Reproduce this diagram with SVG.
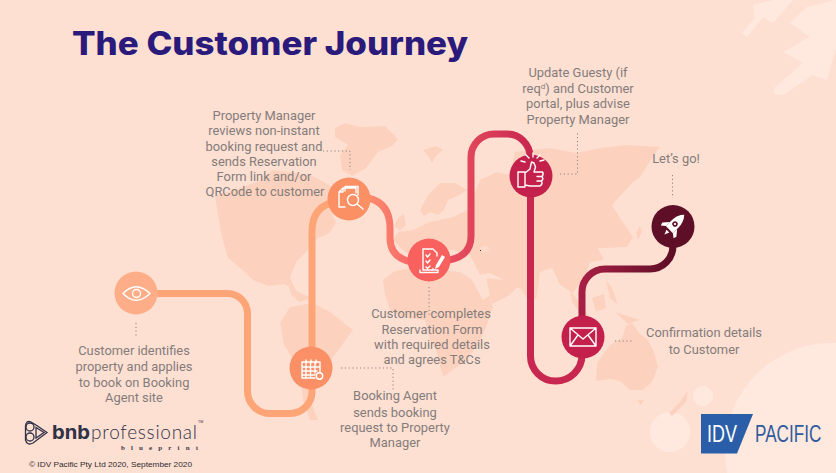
<svg xmlns="http://www.w3.org/2000/svg" width="836" height="473" viewBox="0 0 836 473">
<style>
.t{font-family:Roboto,"Liberation Sans",sans-serif;font-size:12.9px;fill:#847c7a;text-anchor:middle}
.d{fill:none;stroke:#8f8280;stroke-width:1;stroke-dasharray:1.2 2.6}
.i{fill:none;stroke:#fff;stroke-width:1.4;stroke-linejoin:round;stroke-linecap:round}
.p{fill:none;stroke-width:7}
.m{fill:#fcd2bf}
.w{fill:#ffe9df}
</style>
<defs>
<linearGradient id="g1" gradientUnits="userSpaceOnUse" x1="370" y1="0" x2="410" y2="0"><stop offset="0" stop-color="#fb8b6c"/><stop offset="1" stop-color="#f8686a"/></linearGradient>
<linearGradient id="g2" gradientUnits="userSpaceOnUse" x1="450" y1="0" x2="530" y2="0"><stop offset="0" stop-color="#e9505f"/><stop offset="1" stop-color="#c8274f"/></linearGradient>
<linearGradient id="g3" gradientUnits="userSpaceOnUse" x1="582" y1="0" x2="673" y2="0"><stop offset="0" stop-color="#a81f45"/><stop offset="1" stop-color="#5e0e26"/></linearGradient>
</defs>
<rect width="836" height="473" fill="#fee0d3"/>
<g id="background">
<path class="w" d="M742 33L755 18L753 5L773 0H793L773 23L763 17L747 37Z"/>
<path class="w" d="M775 87L803 63L783 52L810 37L790 23L807 7L836 0V47L827 80L813 75L783 95Q770 95 775 87Z"/>
<circle class="w" cx="832" cy="450" r="107"/>
<circle class="w" cx="703" cy="396" r="10"/>
<circle class="w" cx="670" cy="432" r="20"/>
<path class="m" d="M215 196L240 188L262 180L272 170L290 172L312 176L326 183L336 190L342 205L332 214L336 222L330 233L318 238L308 250L296 262L290 278L296 290L284 284L268 286L253 280L240 268L228 258L222 237L218 215Z"/>
<path class="m" d="M335 128L345 123L360 127L385 126L398 139L392 146L378 152L366 168L352 176L342 170L340 155L348 145L335 137Z"/>
<path class="m" d="M288 285L300 293L312 298L300 302L292 296Z"/>
<path class="m" d="M280 323L290 307L313 303L330 312L353 330L342 345L333 357L325 375L313 390L312 405L318 420L310 420L303 400L300 370L284 345Z"/>
<path class="m" d="M423 150L436 146L443 150L436 156L432 163L428 156Z"/>
<path class="m" d="M420 210L428 195L440 183L455 183L467 190L458 196L448 200L444 210L438 215L430 212L424 216Z"/>
<path class="m" d="M398 218L404 214L406 225L400 231L394 226Z"/>
<path class="m" d="M393 240L398 232L413 230L430 222L453 217L467 210L472 200L480 180L497 172L510 175L515 152L530 150L550 148L577 153L600 148L627 145L660 147L652 158L640 177L632 183L624 192L612 205L620 218L633 237L627 247L607 248L598 248L604 260L590 262L586 275L573 293L560 285L552 268L540 272L537 297L530 305L522 290L510 283L490 273L480 275L470 255L452 250L434 250L420 256L405 252Z"/>
<path class="m" d="M385 295L383 280L395 271L412 268L440 270L460 272L472 280L483 300L507 283L490 300L493 307L487 325L477 347L460 365L443 377L436 350L430 340L425 320L405 318L390 310Z"/>
<path class="m" d="M486 278L505 280L520 285L508 296L492 304Z"/>
<path class="m" d="M570 290L578 300L590 318L582 316L572 302Z"/>
<path class="m" d="M592 298L604 294L606 308L596 312Z M606 280L612 288L618 305L610 298Z M615 312L640 320L628 324Z M574 320L600 324V328L582 326Z M636 233L640 226L642 232L638 240Z"/>
<path class="m" d="M597 363L610 345L622 338L626 326L632 323L640 334L648 340L654 352L658 367L652 382L643 390L630 390L620 381L610 379L596 381Z"/>
<path class="m" d="M637 400L644 400L641 405Z M688 390L686 402L672 416L669 413L680 402Z"/>
<ellipse cx="485" cy="249" rx="5" ry="3" fill="#fdd9c9"/>
</g>
<g id="connectors">
<path class="p" stroke="#fda576" d="M157 293.500H227A20 20 0 0 1 247.500 313.500V391A22.500 22.500 0 0 0 270 413.500H290A22 22 0 0 0 312 391.500V232Q312 206 335 202"/>
<path class="p" stroke="url(#g1)" d="M368 198Q390 203 390 228V238Q390 258 412 262"/>
<path class="p" stroke="url(#g2)" d="M449 260Q471 256 471 236V157A23 23 0 0 1 494 134H507A23 23 0 0 1 530 157V165"/>
<path class="p" stroke="#c8274f" d="M530.500 190V356A25 25 0 0 0 555.500 381A26.500 26 0 0 0 582 355V345"/>
<path class="p" stroke="url(#g3)" d="M582 320V292A23 23 0 0 1 605 269H650A23 23 0 0 0 673 246"/>
<path class="d" d="M136 323V336M323 151H350V170M341 368H393V390M429 287V317M560 174H577.500V132M672.500 175V198M615 341H633"/>
<rect x="480" y="250" width="1" height="1" fill="#333"/>
</g>
<g id="title"><text x="72" y="55" font-family="Inter,'Liberation Sans',sans-serif" font-size="32" font-weight="800" fill="#2a1a7c" textLength="396" lengthAdjust="spacingAndGlyphs">The Customer Journey</text></g>
<g id="node-eye"><circle cx="136" cy="293" r="21.500" fill="#fdae88"/><path class="i" d="M123 293.500Q136 280 150 293.500Q136 307 123 293.500Z" stroke-width="1.800"/><circle class="i" cx="136.500" cy="293.500" r="4"/></g>
<g id="node-calendar"><circle cx="311" cy="368" r="21.500" fill="#fb8f66"/><path class="i" d="M315 378H302V362H320V372M302 367H320M306 362V378M310.500 362V378M315 362V373M302 371H317M302 375H315M306 360V363M311 360V363M316 360V363"/><circle class="i" cx="319.500" cy="376" r="3.200"/></g>
<g id="node-search"><circle cx="349" cy="199" r="21.500" fill="#fc9065"/><path class="i" d="M345 207H339V192L343 188H356V193M343 188V192H339M345 191V186.500H358V195"/><circle class="i" cx="353" cy="200" r="5.500"/><path class="i" d="M357 204L363 209" stroke-width="2"/></g>
<g id="node-form"><circle cx="429" cy="260" r="21.500" fill="#f9615f"/><path class="i" d="M433 268.500V270H423V249H433L437 253V256M420 270V272.500H438V270H433M426 255L427.500 257L430 254M426 261L427.500 263L430 260M426 267L427.500 268.500L430 266"/><path d="M436 265L442 255L445 257L439 267L435 269Z" fill="#fff"/></g>
<g id="node-thumb"><circle cx="531" cy="176" r="21.500" fill="#c4204c"/><path class="i" d="M518 172H525V187H518ZM525 173L530 169L531.500 162L534 163L535.500 167L534 172H542.500Q544 174 542 176.500Q544 179 541.500 181Q543 184 540 186H530L525 185M537 176.500H542M537 181H541" stroke-width="1.500"/><path class="i" d="M529 158L526 155M533 157V153M537 158L540 155M525 162L521 161M540 161L544 160"/></g>
<g id="node-rocket"><circle cx="673" cy="226.500" r="21.500" fill="#5e0e26"/><g transform="translate(675 224) rotate(45)"><path d="M0 -13Q5 -8 5 0V8H-5V0Q-5 -8 0 -13Z" fill="#fff"/><path d="M-5 2L-10 8L-9 11L-5 8ZM5 2L10 8L9 11L5 8ZM-2 10H2L0 15Z" fill="#fff"/><circle cy="0" r="2.700" fill="#5e0e26"/><circle cy="0" r="1.200" fill="#fff"/></g></g>
<g id="node-envelope"><circle cx="583" cy="337" r="21.500" fill="#c4204c"/><path class="i" d="M570 328H596V346H570ZM570 328L583 339L596 328M570 346L578 335M596 346L588 335" stroke-width="1.600"/></g>
<g id="labels">
<text class="t" x="134" y="355">Customer identifies</text><text class="t" x="134" y="371">property and applies</text><text class="t" x="134" y="387">to book on Booking</text><text class="t" x="134" y="402">Agent site</text>
<text class="t" x="264" y="120">Property Manager</text><text class="t" x="264" y="135">reviews non-instant</text><text class="t" x="264" y="151">booking request and</text><text class="t" x="264" y="166">sends Reservation</text><text class="t" x="264" y="181">Form link and/or</text><text class="t" x="265" y="196">QRCode to customer</text>
<text class="t" x="431" y="318">Customer completes</text><text class="t" x="432" y="334">Reservation Form</text><text class="t" x="432" y="349">with required details</text><text class="t" x="432" y="364">and agrees T&amp;Cs</text>
<text class="t" x="395" y="400">Booking Agent</text><text class="t" x="395" y="417">sends booking</text><text class="t" x="395" y="432">request to Property</text><text class="t" x="395" y="447">Manager</text>
<text class="t" x="578" y="77">Update Guesty (if</text><text class="t" x="578" y="93">req<tspan font-size="8" dy="-4">d</tspan><tspan dy="4">) and Customer</tspan></text><text class="t" x="578" y="108">portal, plus advise</text><text class="t" x="578" y="124">Property Manager</text>
<text class="t" x="676" y="163">Let’s go!</text>
<text class="t" x="704" y="337">Confirmation details</text><text class="t" x="704" y="354">to Customer</text>
</g>
<g id="logo-bnb">
<g fill="none" stroke="#2f3147" stroke-width="1.300"><path d="M36 425L47 432.500L33 443Q27 446 25.500 440V426Q26 420 31 422L36 425"/><path d="M36 427.500L44 432.500L36 438Z"/><circle cx="30" cy="427" r="4"/><circle cx="30" cy="437" r="4"/></g>
<text x="52" y="439" font-family="Inter,'Liberation Sans',sans-serif" font-size="19" font-weight="700" fill="#2f3147" textLength="38" lengthAdjust="spacingAndGlyphs">bnb</text>
<text x="91" y="439" font-family="Lato,Inter,'Liberation Sans',sans-serif" font-size="19" font-weight="300" fill="#2f3147" textLength="106" lengthAdjust="spacing">professional</text>
<text x="198" y="423" font-family="'Liberation Sans',sans-serif" font-size="3.500" fill="#2f3147">TM</text>
<text x="121" y="450" font-family="'Liberation Serif',serif" font-size="7" font-weight="700" fill="#3b3b4a" textLength="77" lengthAdjust="spacing">blueprint</text>
<text x="29" y="467" font-family="'Liberation Sans',sans-serif" font-size="7.800" fill="#2b2b2b" textLength="163" lengthAdjust="spacingAndGlyphs">© IDV Pacific Pty Ltd 2020, September 2020</text>
</g>
<g id="logo-idv">
<path d="M701 414H753L737 453.500H701Z" fill="#2b5ea8"/>
<text transform="translate(707 441.500) scale(.78 1)" font-family="'Liberation Sans',sans-serif" font-size="23" fill="#fff">IDV</text>
<text transform="translate(755 441.500) scale(.745 1)" font-family="'Liberation Sans',sans-serif" font-size="23" fill="#2f5a9e">PACIFIC</text>
</g>
</svg>
